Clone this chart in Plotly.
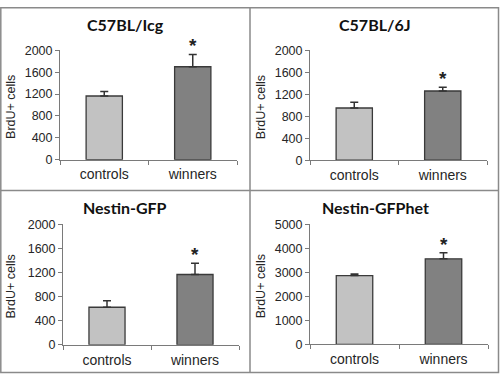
import plotly.graph_objects as go

groups = ["controls", "winners"]
strains = ["C57BL/Icg", "C57BL/6J", "Nestin-GFP", "Nestin-GFPhet"]
controls_mean = [1165, 950, 624, 2867]
controls_err = [80, 105, 107, 66]
winners_mean = [1700, 1260, 1168, 3565]
winners_err = [224, 70, 187, 255]
y_max = [2000, 2000, 2000, 5000]
y_dtick = [400, 400, 400, 1000]
significant = [True, True, True, True]

W, H = 500, 381
# plot-area pixel boxes (left, right, top, bottom)
boxes = [(60, 237, 45, 158.5), (310, 487, 45, 159), (63, 239, 225.7, 350.7), (310, 488, 225.7, 350.3)]
quads = [(0, 250, 0, 190), (250, 500, 0, 190), (0, 250, 190, 381), (250, 500, 190, 381)]

fig = go.Figure()
TXT = "#262626"
AX = "#7a7a7a"

for i in range(4):
    xa = "x" if i == 0 else f"x{i+1}"
    ya = "y" if i == 0 else f"y{i+1}"
    means = [controls_mean[i], winners_mean[i]]
    errs = [controls_err[i], winners_err[i]]
    fig.add_trace(go.Bar(
        x=groups, y=means, xaxis=xa, yaxis=ya,
        marker=dict(color=["#c2c2c2", "#818181"], line=dict(color="#3a3a3a", width=1.3)),
        error_y=dict(type="data", symmetric=False, array=errs, arrayminus=[0, 0],
                     color="#333333", thickness=1.5, width=4),
        showlegend=False, hoverinfo="skip",
    ))
    l, r, t, b = boxes[i]
    xkey = "xaxis" if i == 0 else f"xaxis{i+1}"
    ykey = "yaxis" if i == 0 else f"yaxis{i+1}"
    fig.layout[xkey] = dict(
        domain=[l / W, r / W], anchor=ya, type="category",
        showline=True, linecolor=AX, linewidth=1, ticks="outside", tickson="boundaries",
        ticklen=4, tickcolor=AX, showgrid=False, zeroline=False,
        tickfont=dict(family="Liberation Sans, Arial", size=14, color=TXT),
        ticklabelstandoff=2,
        range=[-0.5, 1.5],
    )
    fig.layout[ykey] = dict(
        domain=[1 - b / H, 1 - t / H], anchor=xa,
        range=[0, y_max[i]], dtick=y_dtick[i], tick0=0,
        showline=True, linecolor=AX, linewidth=1, ticks="outside", ticklen=4, tickcolor=AX,
        showgrid=False, zeroline=False,
        tickfont=dict(family="Liberation Sans, Arial", size=12.5, color=TXT),
    )
    ql, qr, qt, qb = quads[i]
    # panel title
    fig.add_annotation(text=f"<b>{strains[i]}</b>", xref="paper", yref="paper",
                       x=((ql + qr) / 2) / W, y=1 - (qt + 18) / H, showarrow=False,
                       xanchor="center", yanchor="middle",
                       font=dict(family="Lato, Open Sans", size=16, color="#111111"))
    # y axis title
    fig.add_annotation(text="BrdU+ cells", xref="paper", yref="paper",
                       x=(ql + 11) / W, y=1 - ((t + b) / 2 + 2) / H, showarrow=False,
                       textangle=-90, xanchor="center", yanchor="middle",
                       font=dict(family="Liberation Sans, Arial", size=12.5, color=TXT))
    if significant[i]:
        fig.add_annotation(text="<b>*</b>", xref=xa, yref=ya, x="winners",
                           y=winners_mean[i] + winners_err[i], showarrow=False,
                           xanchor="center", yanchor="bottom", yshift=-4,
                           font=dict(family="Liberation Sans, Arial", size=19, color="#222222"))

# panel borders
bc = "#8a8a8a"
fig.add_shape(type="rect", xref="paper", yref="paper", x0=0.8 / W, x1=498.5 / W,
              y0=1 - 379.5 / H, y1=1 - 0.8 / H, line=dict(color=bc, width=1.5))
fig.add_shape(type="line", xref="paper", yref="paper", x0=250 / W, x1=250 / W,
              y0=1 - 379.5 / H, y1=1 - 0.8 / H, line=dict(color=bc, width=1.5))
fig.add_shape(type="line", xref="paper", yref="paper", x0=0.8 / W, x1=498.5 / W,
              y0=1 - 190.5 / H, y1=1 - 190.5 / H, line=dict(color=bc, width=1.5))

fig.update_layout(
    width=W, height=H, margin=dict(l=0, r=0, t=0, b=0),
    paper_bgcolor="white", plot_bgcolor="white", bargap=0.59,
)
fig.write_html("out.html", config={"displayModeBar": False},
               post_script="document.body.style.margin='0';")
